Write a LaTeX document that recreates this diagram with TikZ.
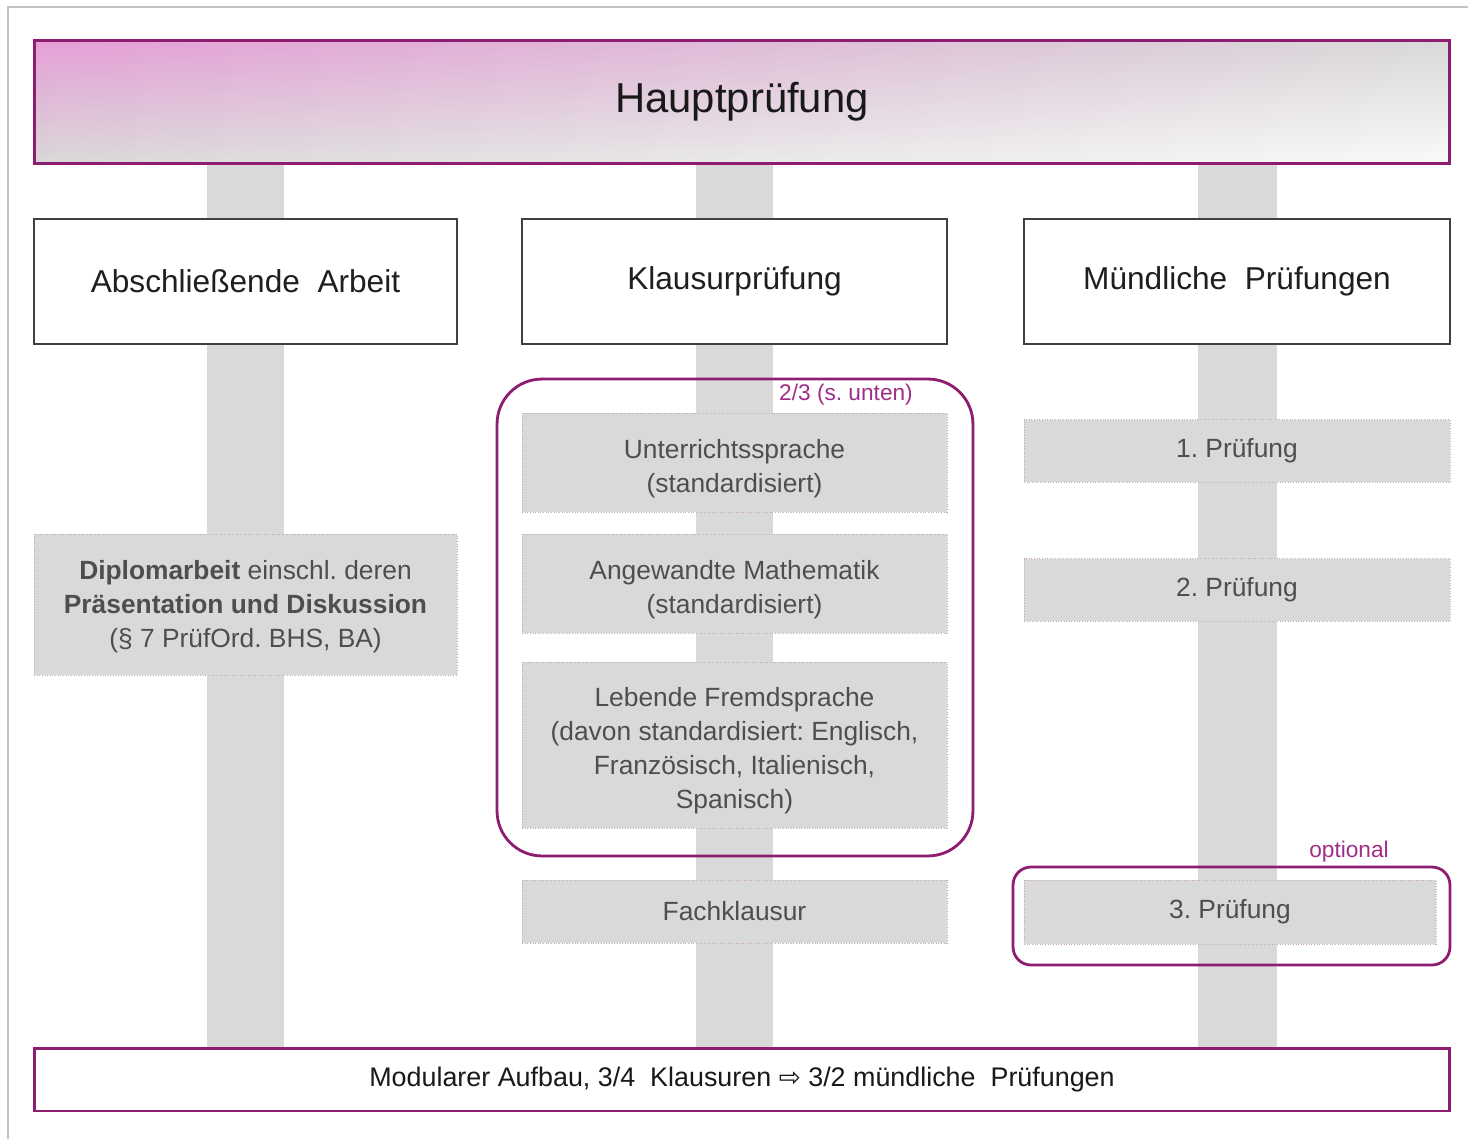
\documentclass[tikz,border=0pt]{standalone}
\usepackage{fontspec}
\setmainfont{Liberation Sans}
\newfontfamily\dejavu{DejaVu Sans}
\usetikzlibrary{backgrounds}
\frenchspacing
\definecolor{purp}{RGB}{142,28,112}
\definecolor{purptxt}{RGB}{160,45,135}
\definecolor{barg}{RGB}{217,217,217}
\definecolor{boxg}{RGB}{217,217,217}
\definecolor{txtg}{RGB}{78,78,78}
\definecolor{hdr}{RGB}{64,64,64}
\definecolor{dotb}{RGB}{200,165,190}
\definecolor{framec}{RGB}{195,195,195}
\pgfdeclarefunctionalshading{hpshade}{\pgfpoint{0bp}{0bp}}{\pgfpoint{100bp}{100bp}}{}{
 25 sub 50 div exch 25 sub 50 div exch
 2 copy 1 exch sub mul
 3 1 roll exch 1 exch sub mul
 2 copy 0.05 mul exch 0.13 mul add 0.85 add
 3 1 roll
 2 copy -0.23 mul exch 0.13 mul add 0.85 add
 3 1 roll
 -0.01 mul exch 0.13 mul add 0.85 add
}
\begin{document}
\frenchspacing
\begin{tikzpicture}[x=0.02cm,y=-0.02cm,
  hauptbox/.style={draw=purp, line width=1.7pt, shading=hpshade, inner sep=0pt,
    font=\fontsize{23.8}{28}\selectfont, text=black!90},
  hdrbox/.style={draw=hdr, line width=1.6pt, fill=white, inner sep=0pt,
    font=\fontsize{18}{22}\selectfont, text=black!88},
  graybox/.style={draw=dotb, densely dotted, line width=0.5pt, fill=boxg, inner sep=0pt,
    align=center, text=txtg, font=\fontsize{15}{19.3}\selectfont},
  gtext/.style={inner sep=0pt, align=center, text=txtg, font=\fontsize{15}{19.3}\selectfont},
  grp/.style={draw=purp, line width=1.6pt, rounded corners=#1, inner sep=0pt},
  grplbl/.style={text=purptxt, inner sep=0pt, font=\fontsize{12.9}{15}\selectfont},
  bottombox/.style={draw=purp, line width=1.7pt, fill=white, inner sep=0pt,
    font=\fontsize{15.3}{18}\selectfont, text=black!90},
  bar/.style={draw=barg, line width=#1},
  framel/.style={draw=framec, line width=1.1pt}
]
\useasboundingbox (0,0) rectangle (1468,1139);

% outer frame
\draw[framel] (8,1139) -- (8,7) -- (1468,7);

% top and bottom boxes
\node[hauptbox, minimum width=28.32cm, minimum height=2.48cm] (haupt) at (742,102) {Hauptprüfung};
\node[bottombox, minimum width=28.32cm, minimum height=1.26cm] (bottom) at (742,1079.5)
  {Modularer Aufbau, 3/4\ \ Klausuren {\dejavu\fontsize{15}{18}\selectfont ⇨} 3/2 mündliche\ \ Prüfungen};

% column headers
\node[hdrbox, minimum width=8.46cm, minimum height=2.5cm] (h1) at (245.5,281.5) {Abschließende\ \ Arbeit};
\node[hdrbox, minimum width=8.5cm, minimum height=2.5cm] (h2) at (734.5,281.5) {Klausurprüfung};
\node[hdrbox, minimum width=8.52cm, minimum height=2.5cm] (h3) at (1237,281.5) {Mündliche\ \ Prüfungen};

% left column
\node[graybox, minimum width=8.46cm, minimum height=2.82cm] (dipl) at (245.5,604.5) {};
\node[gtext] (diplt) at ([yshift=-0.05cm]dipl.center)
  {\textbf{Diplomarbeit} einschl. deren\\\textbf{Präsentation und Diskussion}\\(§ 7 PrüfOrd. BHS, BA)};

% middle column
\node[graybox, minimum width=8.5cm, minimum height=1.98cm] (us) at (734.5,462.5) {};
\node[gtext] (ust) at ([yshift=-0.12cm]us.center) {Unterrichtssprache\\(standardisiert)};
\node[graybox, minimum width=8.5cm, minimum height=1.98cm] (am) at (734.5,583.5) {};
\node[gtext] (amt) at ([yshift=-0.12cm]am.center) {Angewandte Mathematik\\(standardisiert)};
\node[graybox, minimum width=8.5cm, minimum height=3.32cm] (lf) at (734.5,745) {};
\node[gtext] (lft) at ([yshift=-0.12cm]lf.center)
  {Lebende Fremdsprache\\(davon standardisiert: Englisch,\\Französisch, Italienisch,\\Spanisch)};
\node[graybox, minimum width=8.5cm, minimum height=1.26cm] (fk) at (734.5,911.5) {Fachklausur};
\node[grp=0.9cm, minimum width=9.52cm, minimum height=9.54cm] (g1) at (735,617.5) {};
\node[grplbl] (l1) at (846,395) {2/3 (s. unten)};

% right column
\node[graybox, minimum width=8.52cm, minimum height=1.26cm] (p1) at (1237,451) {1. Prüfung};
\node[graybox, minimum width=8.52cm, minimum height=1.26cm] (p2) at (1237,590) {2. Prüfung};
\node[graybox, minimum width=8.24cm, minimum height=1.28cm] (p3) at (1230,912) {3. Prüfung};
\node[grp=0.36cm, minimum width=8.74cm, minimum height=1.96cm] (g2) at (1231.5,916) {};
\node[grplbl] (l2) at (1349,852) {optional};

% vertical bars behind everything
\begin{scope}[on background layer]
  \fill[white] (0,0) rectangle (1468,1139);
  \draw[bar=1.54cm] (h1.center |- haupt.south) -- (h1.center |- bottom.north);
  \draw[bar=1.56cm] (h2.center |- haupt.south) -- (h2.center |- bottom.north);
  \draw[bar=1.58cm] (h3.center |- haupt.south) -- (h3.center |- bottom.north);
\end{scope}
\end{tikzpicture}
\end{document}
